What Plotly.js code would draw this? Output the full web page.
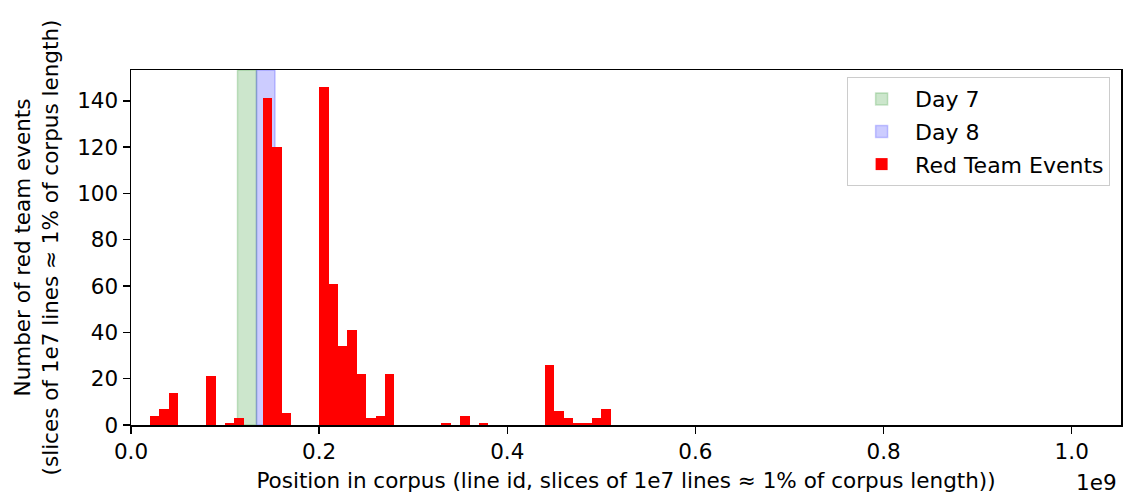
<!DOCTYPE html>
<html>
<head>
<meta charset="utf-8">
<script src="https://cdn.plot.ly/plotly-3.0.1.min.js"></script>
<style>html,body{margin:0;padding:0;background:#fff;}#chart{width:1123px;height:496px;}</style>
</head>
<body>
<div id="chart"></div>
<script>
// Histogram bins: start of each 1e7-line slice and the number of red team events in it
const binStarts = [2e7, 3e7, 4e7, 8e7, 10e7, 11e7, 14e7, 15e7, 16e7,
                   20e7, 21e7, 22e7, 23e7, 24e7, 25e7, 26e7, 27e7,
                   33e7, 35e7, 37e7, 44e7, 45e7, 46e7, 47e7, 48e7, 49e7, 50e7];
const eventCounts = [4, 7, 14, 21, 1, 3, 141, 120, 5,
                     146, 61, 34, 41, 22, 3, 4, 22,
                     1, 4, 1, 26, 6, 3, 1, 1, 3, 7];
const binWidth = 1e7;

// Day spans (line id ranges)
const day7Range = [1.132e8, 1.334e8];
const day8Range = [1.334e8, 1.531e8];

const xTickVals = [0, 2e8, 4e8, 6e8, 8e8, 1e9];
const xTickText = ['0.0', '0.2', '0.4', '0.6', '0.8', '1.0'];
const yTickVals = [0, 20, 40, 60, 80, 100, 120, 140];

const FONT = '"DejaVu Sans", Verdana, sans-serif';
const FS = 21.5;

function spanTrace(name, range, fill, edge) {
  return {
    type: 'bar', name: name, legendgroup: name,
    x: [range[0]], y: [1], width: [range[1] - range[0]], offset: 0,
    xaxis: 'x', yaxis: 'y',
    marker: {color: fill, line: {color: edge, width: 1.5}},
    hoverinfo: 'skip'
  };
}

const traces = [
  spanTrace('Day 7', day7Range, 'rgba(0,128,0,0.2)', 'rgba(0,128,0,0.2)'),
  spanTrace('Day 8', day8Range, 'rgba(0,0,255,0.2)', 'rgba(0,0,255,0.2)'),
  {
    type: 'bar', name: 'Red Team Events', legendgroup: 'red',
    x: binStarts, y: eventCounts,
    width: binStarts.map(() => binWidth), offset: 0,
    xaxis: 'x', yaxis: 'y2',
    marker: {color: '#ff0000', line: {width: 0}},
    hoverinfo: 'skip'
  }
];

const layout = {
  width: 1123, height: 496,
  margin: {l: 131, r: 2, t: 70, b: 71, pad: 0},
  paper_bgcolor: '#ffffff', plot_bgcolor: '#ffffff',
  font: {family: FONT, size: FS, color: '#000'},
  barmode: 'overlay',
  bargap: 0,
  showlegend: true,
  legend: {
    x: 0.989, y: 0.98, xanchor: 'right', yanchor: 'top',
    bgcolor: 'rgba(255,255,255,0.8)', bordercolor: '#cccccc', borderwidth: 1,
    font: {family: FONT, size: 22, color: '#000'},
    traceorder: 'grouped', tracegroupgap: 1,
    itemwidth: 57
  },
  xaxis: {
    range: [0, 1.0524e9],
    tickmode: 'array', tickvals: xTickVals, ticktext: xTickText,
    ticks: 'outside', ticklen: 7, tickwidth: 1.5, tickcolor: '#000',
    showline: true, linecolor: '#000', linewidth: 1.5, mirror: true,
    showgrid: false, zeroline: false,
    tickfont: {family: FONT, size: FS, color: '#000'},
    title: {text: 'Position in corpus (line id, slices of 1e7 lines \u2248 1% of corpus length))',
            font: {family: FONT, size: FS, color: '#000'}, standoff: 9},
    automargin: false
  },
  yaxis: {
    range: [0, 1], visible: false, fixedrange: true
  },
  yaxis2: {
    overlaying: 'y', side: 'left',
    range: [0, 153.3],
    tickmode: 'array', tickvals: yTickVals,
    ticks: 'outside', ticklen: 7, tickwidth: 1.5, tickcolor: '#000',
    showline: true, linecolor: '#000', linewidth: 1.5, mirror: true,
    showgrid: false, zeroline: false,
    tickfont: {family: FONT, size: FS, color: '#000'},
    title: {text: 'Number of red team events<br>(slices of 1e7 lines \u2248 1% of corpus length)',
            font: {family: FONT, size: FS, color: '#000'}, standoff: 12},
    automargin: false
  },
  annotations: [{
    text: '1e9', xref: 'paper', yref: 'paper', x: 0.998, y: -0.12,
    xanchor: 'right', yanchor: 'top', showarrow: false,
    font: {family: FONT, size: FS, color: '#000'}
  }],
  hovermode: false
};

Plotly.newPlot('chart', traces, layout, {displayModeBar: false, staticPlot: true});
</script>
</body>
</html>
